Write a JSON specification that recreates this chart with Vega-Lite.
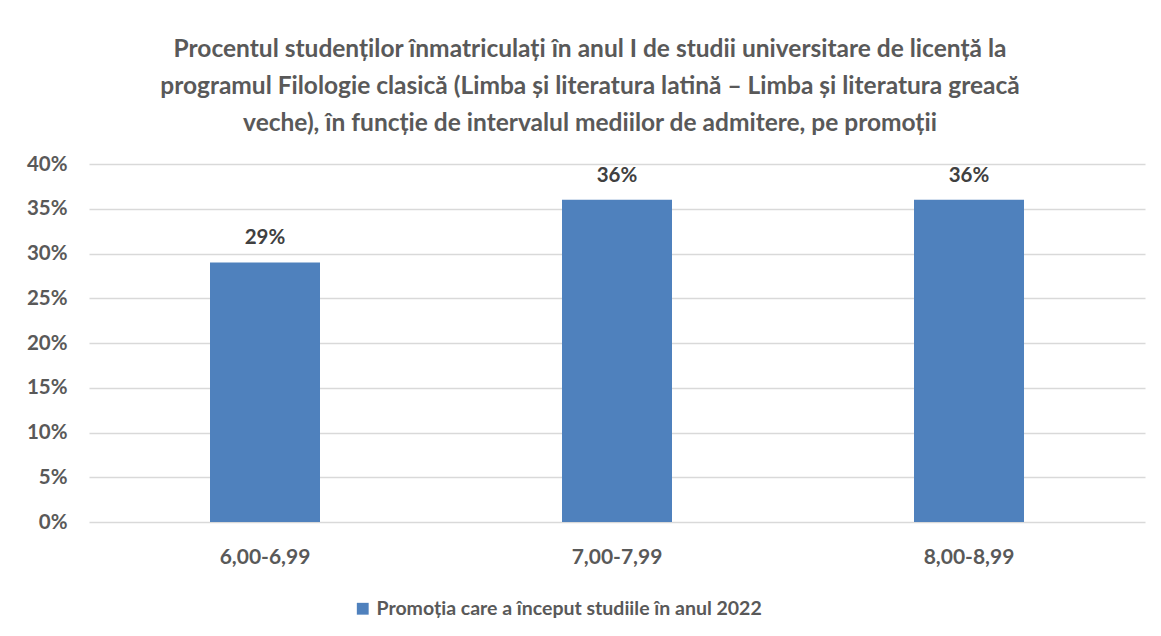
{
  "$schema": "https://vega.github.io/schema/vega-lite/v6.json",
  "width": 1056,
  "height": 358,
  "autosize": {"type": "none"},
  "padding": {"left": 89, "top": 164, "right": 16, "bottom": 114},
  "background": "white",
  "config": {
    "font": "Lato",
    "view": {"stroke": null}
  },
  "title": {
    "text": [
      "Procentul studenților înmatriculați în anul I de studii universitare de licență la",
      "programul Filologie clasică (Limba și literatura latină – Limba și literatura greacă",
      "veche), în funcție de intervalul mediilor de admitere, pe promoții"
    ],
    "font": "Lato",
    "fontSize": 24.5,
    "fontWeight": "bold",
    "color": "#595959",
    "lineHeight": 37,
    "anchor": "middle",
    "dx": -27,
    "offset": 18
  },
  "data": {
    "values": [
      {"interval": "6,00-6,99", "value": 0.29, "series": "Promoția care a început studiile în anul 2022"},
      {"interval": "7,00-7,99", "value": 0.36, "series": "Promoția care a început studiile în anul 2022"},
      {"interval": "8,00-8,99", "value": 0.36, "series": "Promoția care a început studiile în anul 2022"}
    ]
  },
  "encoding": {
    "x": {
      "field": "interval",
      "type": "nominal",
      "sort": null,
      "scale": {"paddingInner": 0.6875, "paddingOuter": 0.34375},
      "axis": {
        "title": null,
        "labelAngle": 0,
        "domain": false,
        "ticks": false,
        "grid": false,
        "labelPadding": 24,
        "labelFont": "Lato",
        "labelFontSize": 21,
        "labelFontWeight": "bold",
        "labelColor": "#595959"
      }
    },
    "y": {
      "field": "value",
      "type": "quantitative",
      "scale": {"domain": [0, 0.4], "nice": false},
      "axis": {
        "title": null,
        "values": [0, 0.05, 0.1, 0.15, 0.2, 0.25, 0.3, 0.35, 0.4],
        "format": ".0%",
        "domain": false,
        "ticks": false,
        "grid": true,
        "gridColor": "#D9D9D9",
        "gridWidth": 1.5,
        "labelPadding": 22,
        "labelFont": "Lato",
        "labelFontSize": 20.5,
        "labelFontWeight": "bold",
        "labelColor": "#595959"
      }
    }
  },
  "layer": [
    {
      "mark": {"type": "bar"},
      "encoding": {
        "color": {
          "field": "series",
          "type": "nominal",
          "scale": {"range": ["#4F81BD"]},
          "legend": {
            "title": null,
            "orient": "none",
            "legendX": 264,
            "legendY": 435,
            "symbolType": "square",
            "symbolSize": 140,
            "symbolStrokeWidth": 0,
            "labelFont": "Lato",
            "labelFontSize": 19.5,
            "labelFontWeight": "bold",
            "labelColor": "#595959",
            "labelLimit": 600
          }
        }
      }
    },
    {
      "mark": {
        "type": "text",
        "baseline": "bottom",
        "dy": -14,
        "font": "Lato",
        "fontSize": 20.5,
        "fontWeight": "bold",
        "color": "#404040"
      },
      "encoding": {
        "text": {"field": "value", "type": "quantitative", "format": ".0%"}
      }
    }
  ]
}
